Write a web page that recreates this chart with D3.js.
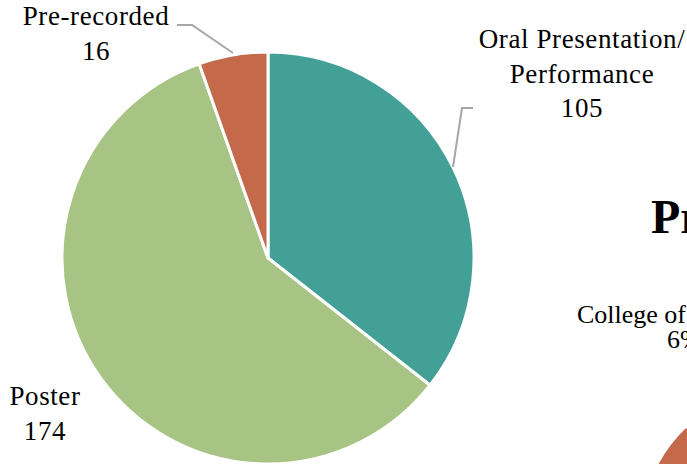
<!DOCTYPE html>
<html>
<head>
<meta charset="utf-8">
<script src="https://cdn.jsdelivr.net/npm/d3@7"></script>
<style>
  html, body { margin: 0; padding: 0; background: #fff; overflow: hidden; }
  svg { display: block; }
  text { font-family: "Liberation Serif", "Times New Roman", serif; fill: #000; }
</style>
</head>
<body>
<script>
// chart data
var categories = ["Oral Presentation/Performance", "Poster", "Pre-recorded"];
var labelLines = [["Oral Presentation/", "Performance"], ["Poster"], ["Pre-recorded"]];
var counts = [105, 174, 16];
var colors = ["#43a096", "#a8c484", "#c4694a"];

// neighbouring chart, cut off at the right edge
var nextTitle = "Presentation Type by College";
var nextLabel = ["College of", "6%"];
var nextShare = [6];

window.onload = function(){
    var width = 687, height = 464;
    var svg = d3.select(document.body).append('svg')
        .attr('width', width)
        .attr('height', height);

    drawPie(svg);
    drawNext(svg);

    function drawPie(svg){
        var cx = 268, cy = 258, r = 206;
        var data = categories.map(function(c, i){
            return {name: c, lines: labelLines[i], value: counts[i], color: colors[i]};
        });

        var pie = d3.pie().sort(null).value(function(d){ return d.value; });
        var arc = d3.arc().innerRadius(0).outerRadius(r);
        var arcs = pie(data);

        var g = svg.append('g').attr('transform', 'translate(' + cx + ',' + cy + ')');
        g.selectAll('path').data(arcs).enter().append('path')
            .attr('d', arc)
            .style('fill', function(d){ return d.data.color; })
            .style('stroke', '#fff')
            .style('stroke-width', 3)
            .style('stroke-linejoin', 'round');

        // label positions (absolute)
        var labelPos = [
            {x: 582, y: 48, line: [[473, 108], [462, 108], [453, 167]]},
            {x: 45, y: 405, line: null},
            {x: 96, y: 25, line: [[177, 25], [192, 25], [233, 53]]}
        ];

        arcs.forEach(function(a, i){
            var p = labelPos[i];
            if (p.line) {
                svg.append('path')
                    .attr('d', d3.line()(p.line))
                    .style('fill', 'none')
                    .style('stroke', '#a6a6a6')
                    .style('stroke-width', 2);
            }
            var t = svg.append('text')
                .attr('text-anchor', 'middle')
                .style('font-size', '27px')
                .style('letter-spacing', '0.6px');
            var lines = a.data.lines.concat([String(a.data.value)]);
            lines.forEach(function(s, k){
                t.append('tspan')
                    .attr('x', p.x)
                    .attr('y', p.y + k * 34.5)
                    .text(s);
            });
        });
    }

    function drawNext(svg){
        svg.append('text')
            .attr('x', 651)
            .attr('y', 233)
            .style('font-size', '48px')
            .style('font-weight', 'bold')
            .text(nextTitle);

        var t = svg.append('text').style('font-size', '26px');
        t.append('tspan').attr('x', 577).attr('y', 323).text(nextLabel[0]);
        t.append('tspan').attr('x', 667).attr('y', 348).text(nextLabel[1]);

        var ang = d3.scaleLinear().domain([0, 100]).range([0, 2 * Math.PI]);
        var start = -65 * Math.PI / 180;
        var a = d3.arc().innerRadius(0).outerRadius(150)
            .startAngle(start)
            .endAngle(start + ang(nextShare[0]));
        svg.append('path')
            .attr('transform', 'translate(789,535)')
            .attr('d', a())
            .style('fill', '#c4694a')
            .style('stroke', '#fff')
            .style('stroke-width', 3);
    }
};
</script>
</body>
</html>
